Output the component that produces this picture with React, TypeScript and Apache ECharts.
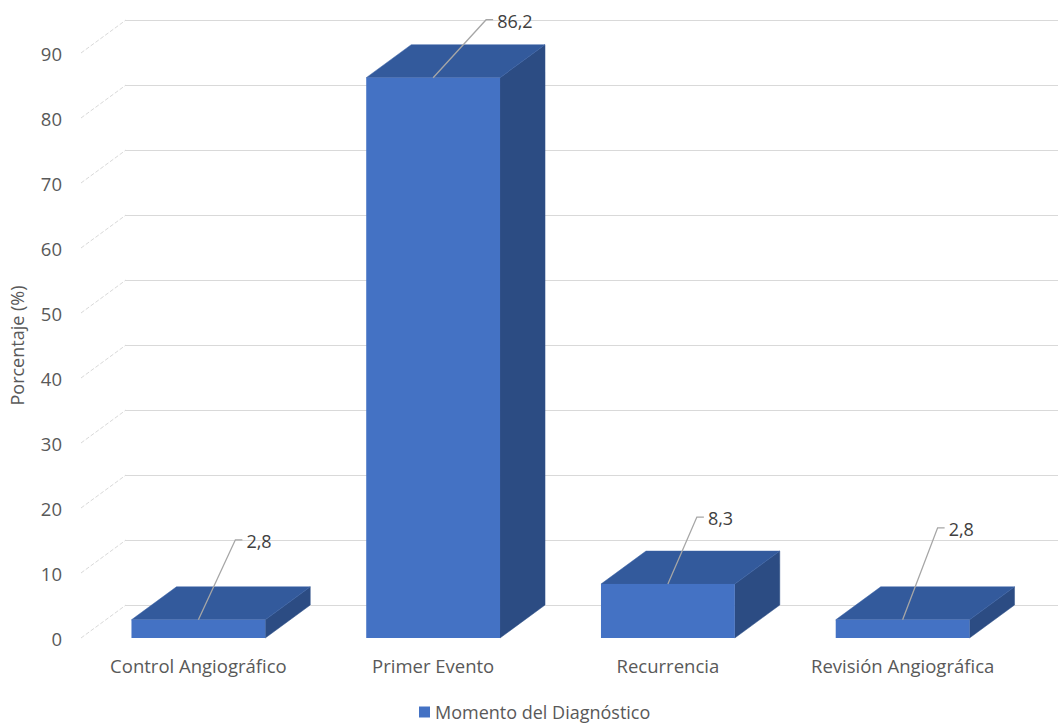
import React, { useEffect, useRef } from "react";
import * as echarts from "echarts";

const categories = ["Control Angiográfico", "Primer Evento", "Recurrencia", "Revisión Angiográfica"];
const values = [2.8, 86.2, 8.3, 2.8];
const valueLabels = ["2,8", "86,2", "8,3", "2,8"];
const yTicks = [0, 10, 20, 30, 40, 50, 60, 70, 80, 90];
const seriesName = "Momento del Diagnóstico";
const yAxisName = "Porcentaje (%)";

// manual label placement (leader-line elbow offset from the bar's front-top centre)
const labelOffsets = [
  [37, -80],
  [53, -58],
  [29, -67],
  [35, -92],
];

const DX = 45;
const DY = -33;
const FONT = "'Open Sans', 'Noto Sans', sans-serif";

export default function App() {
  const ref = useRef<HTMLDivElement>(null);

  useEffect(() => {
    if (!ref.current) return;
    const chart = echarts.init(ref.current, undefined, { renderer: "svg" });

    const option: any = {
      animation: false,
      backgroundColor: "#ffffff",
      textStyle: { fontFamily: FONT },
      legend: {
        data: [seriesName],
        left: 416,
        top: 700,
        padding: 3,
        icon: "rect",
        itemWidth: 11,
        itemHeight: 11,
        itemGap: 10,
        textStyle: { color: "#595959", fontSize: 18, fontFamily: FONT, padding: [0, 0, 0, 0] },
      },
      grid: [
        { left: 80, width: 940, top: 53, height: 585 },
        { left: 80 + DX, width: 940, top: 53 + DY, height: 585 },
      ],
      xAxis: [
        {
          type: "category",
          gridIndex: 0,
          data: categories,
          axisLine: { show: false },
          axisTick: { show: false },
          axisLabel: { color: "#595959", fontSize: 18.5, margin: 18, fontFamily: FONT, interval: 0 },
          splitLine: { show: false },
        },
        {
          type: "category",
          gridIndex: 1,
          data: categories,
          show: false,
        },
      ],
      yAxis: [
        {
          type: "value",
          gridIndex: 0,
          min: 0,
          max: 90,
          interval: 10,
          axisLine: { show: false },
          axisTick: { show: false },
          splitLine: { show: false },
          axisLabel: { color: "#595959", fontSize: 18.5, margin: 19, fontFamily: FONT },
          name: yAxisName,
          nameLocation: "middle",
          nameGap: 55,
          nameTextStyle: { color: "#595959", fontSize: 18, fontFamily: FONT },
        },
        {
          type: "value",
          gridIndex: 1,
          min: 0,
          max: 90,
          interval: 10,
          axisLine: { show: false },
          axisTick: { show: false },
          axisLabel: { show: false },
          splitLine: { show: true, lineStyle: { color: "#d9d9d9", width: 1 } },
        },
      ],
      series: [
        {
          type: "custom",
          name: "diag",
          xAxisIndex: 0,
          yAxisIndex: 0,
          silent: true,
          data: yTicks.map((v) => [0, v]),
          renderItem: (params: any, api: any) => {
            const y = api.coord([0, api.value(1)])[1];
            const x0 = params.coordSys.x;
            return {
              type: "line",
              shape: { x1: x0, y1: y, x2: x0 + DX, y2: y + DY },
              style: { stroke: "#d9d9d9", lineWidth: 1, lineDash: [4, 2] },
            };
          },
        },
        {
          type: "custom",
          name: seriesName,
          xAxisIndex: 0,
          yAxisIndex: 0,
          itemStyle: { color: "#4472C4" },
          data: values.map((v, i) => [i, v]),
          renderItem: (params: any, api: any) => {
            const idx = params.dataIndex;
            const [cx, yTop] = api.coord([api.value(0), api.value(1)]);
            const y0 = api.coord([api.value(0), 0])[1];
            const bw = api.size([1, 0])[0] * 0.57;
            const x1 = cx - bw / 2;
            const x2 = cx + bw / 2;
            const [ox, oy] = labelOffsets[idx];
            const ex = cx + ox;
            const ey = yTop + oy;
            return {
              type: "group",
              children: [
                {
                  type: "polygon",
                  shape: { points: [[x2, yTop], [x2 + DX, yTop + DY], [x2 + DX, y0 + DY], [x2, y0]] },
                  style: { fill: "#2C4C83", stroke: "#2E5088", lineWidth: 0.5 },
                },
                {
                  type: "polygon",
                  shape: { points: [[x1, yTop], [x2, yTop], [x2 + DX, yTop + DY], [x1 + DX, yTop + DY]] },
                  style: { fill: "#335A9C", stroke: "#3A62A6", lineWidth: 0.5 },
                },
                {
                  type: "rect",
                  shape: { x: x1, y: yTop, width: bw, height: y0 - yTop },
                  style: { fill: "#4472C4" },
                },
                {
                  type: "polyline",
                  shape: { points: [[cx, yTop], [ex, ey], [ex + 7, ey]] },
                  style: { stroke: "#a6a6a6", lineWidth: 1.3, fill: "none" },
                },
                {
                  type: "text",
                  style: {
                    text: valueLabels[idx],
                    x: ex + 11,
                    y: ey + 1,
                    fill: "#404040",
                    fontSize: 18,
                    fontFamily: FONT,
                    align: "left",
                    verticalAlign: "middle",
                  },
                },
              ],
            };
          },
        },
      ],
    };

    chart.setOption(option);
    return () => chart.dispose();
  }, []);

  return (
    <div
      ref={ref}
      style={{ position: "fixed", left: 0, top: 0, width: 1058, height: 727, background: "#fff" }}
    />
  );
}
